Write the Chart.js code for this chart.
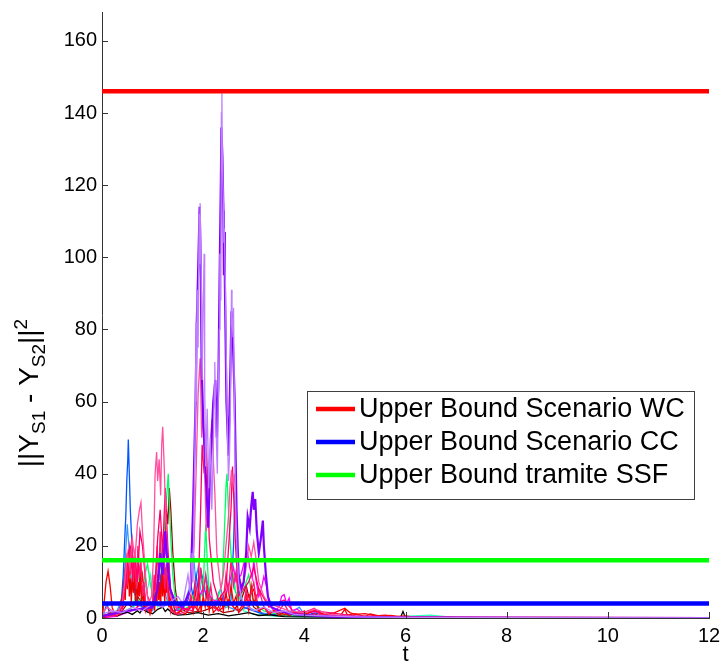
<!DOCTYPE html>
<html>
<head>
<meta charset="utf-8">
<script src="https://cdn.jsdelivr.net/npm/chart.js@4.4.1/dist/chart.umd.min.js"></script>
<style>
  html, body { margin: 0; padding: 0; background: #fff; }
  canvas { display: block; }
</style>
</head>
<body>
<canvas id="chart" width="722" height="666"></canvas>
<script>
// axis ticks
const xTicks = [0, 2, 4, 6, 8, 10, 12];
const yTicks = [0, 20, 40, 60, 80, 100, 120, 140, 160];

// horizontal bounds
const boundLabels = ["Upper Bound Scenario WC", "Upper Bound Scenario CC", "Upper Bound tramite SSF"];
const boundValues = [146, 4, 16];
const boundColors = ["#ff0000", "#0000ff", "#00ff00"];

// simulated trajectories, [t, ||Y_S1 - Y_S2||^2]
const lavender = [[0,1],[0.2,2],[0.4,1.5],[0.6,3],[0.8,2],[1.0,4],[1.2,3],[1.4,5],[1.5,6],[1.6,4],[1.65,8],[1.7,12],[1.74,7],[1.78,18],[1.8,10],[1.82,30],[1.84,52],[1.86,82],[1.87,60],[1.88,91],[1.9,75],[1.92,112],[1.93,98],[1.94,115],[1.96,97],[1.98,66],[2.0,88],[2.02,101],[2.03,64],[2.05,42],[2.08,58],[2.11,36],[2.14,50],[2.17,30],[2.2,46],[2.22,64],[2.23,71],[2.25,55],[2.28,40],[2.3,62],[2.32,80],[2.33,101],[2.35,88],[2.36,140],[2.37,145.5],[2.38,126],[2.4,115],[2.41,104],[2.42,108],[2.44,92],[2.46,70],[2.48,52],[2.5,38],[2.52,45],[2.54,60],[2.56,91],[2.57,84],[2.59,78],[2.6,86],[2.62,55],[2.64,32],[2.67,18],[2.7,10],[2.75,6],[2.8,4],[2.9,3],[3.0,2],[3.2,3],[3.4,1.5],[3.6,2],[3.8,1],[4.0,0.8],[4.5,0.5],[5,0.3],[6,0.2],[8,0.1],[12,0]];
const violet = [[0,0.5],[0.5,2],[1.0,3],[1.1,8],[1.15,18],[1.2,12],[1.25,24],[1.3,14],[1.35,8],[1.45,4],[1.6,3],[1.75,8],[1.8,30],[1.85,60],[1.87,80],[1.9,96],[1.93,114],[1.95,100],[1.97,70],[2.0,55],[2.05,40],[2.1,25],[2.15,45],[2.2,60],[2.24,66],[2.27,50],[2.3,64],[2.33,100],[2.35,121],[2.36,136],[2.38,128],[2.4,113],[2.41,95],[2.42,107],[2.43,92],[2.46,60],[2.5,45],[2.54,70],[2.56,85],[2.58,80],[2.62,62],[2.66,30],[2.7,12],[2.75,8],[2.8,10],[2.85,18],[2.88,28],[2.92,25],[2.95,31],[2.98,35],[3.0,30],[3.03,33],[3.06,24],[3.1,18],[3.14,22],[3.18,27],[3.2,20],[3.24,12],[3.28,6],[3.35,3],[3.5,2],[3.8,1],[4.5,0.4],[6,0.1],[12,0]];
const pink = [[0,1],[0.1,3],[0.2,2],[0.3,1],[0.4,4],[0.45,10],[0.5,18],[0.55,14],[0.6,22],[0.65,16],[0.7,26],[0.74,30],[0.77,32],[0.8,24],[0.84,16],[0.88,8],[0.92,4],[0.98,6],[1.02,18],[1.05,40],[1.08,46],[1.1,38],[1.13,44],[1.16,34],[1.18,48],[1.2,53],[1.23,42],[1.26,28],[1.3,14],[1.35,6],[1.45,3],[1.6,4],[1.7,6],[1.78,10],[1.82,20],[1.86,40],[1.9,62],[1.94,72],[1.97,50],[2.0,57],[2.03,40],[2.06,24],[2.1,32],[2.14,46],[2.17,55],[2.2,44],[2.23,35],[2.27,18],[2.3,14],[2.35,8],[2.4,12],[2.45,20],[2.5,28],[2.53,36],[2.56,41],[2.59,37],[2.62,40],[2.65,26],[2.7,12],[2.78,8],[2.85,14],[2.9,20],[2.95,17],[3.0,21],[3.05,16],[3.1,10],[3.2,6],[3.3,4],[3.5,3],[3.7,2],[4.0,1.5],[4.2,2.5],[4.5,1],[5,0.5],[6,0.2],[8,0.1],[12,0]];
const crimson = [[0,0.5],[0.3,1],[0.4,3],[0.45,8],[0.5,15],[0.55,20],[0.6,12],[0.65,18],[0.7,10],[0.75,24],[0.8,20],[0.85,12],[0.9,6],[1.0,3],[1.05,10],[1.1,22],[1.15,30],[1.2,18],[1.25,36],[1.3,20],[1.35,8],[1.5,3],[1.8,2],[1.9,6],[1.95,30],[1.98,48],[2.02,40],[2.05,50],[2.08,42],[2.12,22],[2.2,10],[2.3,5],[2.45,8],[2.55,30],[2.58,42],[2.6,35],[2.64,20],[2.7,6],[2.9,10],[3.0,14],[3.1,8],[3.3,3],[3.6,5],[3.8,1.5],[4.2,2],[5,0.6],[6,0.3],[12,0.1]];
const rose = [[0,0.2],[0.3,0.8],[0.4,2],[0.44,7],[0.47,15],[0.5,9],[0.53,19],[0.56,12],[0.59,22],[0.62,10],[0.65,17],[0.68,8],[0.71,20],[0.74,11],[0.77,16],[0.8,6],[0.83,10],[0.87,3],[0.92,2],[1.0,4],[1.03,12],[1.06,7],[1.09,20],[1.12,10],[1.15,24],[1.18,13],[1.21,19],[1.24,8],[1.27,15],[1.31,5],[1.36,2],[1.5,1],[1.7,2],[1.75,6],[1.8,3],[1.85,10],[1.9,5],[1.95,14],[2.0,7],[2.05,12],[2.1,4],[2.15,9],[2.2,3],[2.3,2],[2.4,5],[2.45,12],[2.5,7],[2.55,16],[2.6,9],[2.65,13],[2.7,4],[2.8,3],[2.85,8],[2.9,4],[3.0,10],[3.05,5],[3.1,8],[3.2,3],[3.3,1.5],[3.5,2],[3.6,4],[3.7,1.5],[3.9,1],[4.2,2.7],[4.3,1],[4.6,0.6],[5,0.4],[6,0.1],[12,0]];
const red = [[0,0],[0.04,4],[0.08,10],[0.12,13],[0.16,9],[0.2,3],[0.25,1],[0.3,2],[0.35,1],[0.4,5],[0.45,12],[0.5,18],[0.53,10],[0.56,20],[0.6,14],[0.64,17],[0.68,9],[0.72,15],[0.76,8],[0.8,12],[0.85,5],[0.9,3],[0.95,2],[1.0,4],[1.05,6],[1.1,9],[1.15,5],[1.2,12],[1.25,7],[1.3,10],[1.35,4],[1.4,2],[1.5,1],[1.6,3],[1.7,2],[1.8,4],[1.9,2],[2.0,5],[2.1,3],[2.2,4],[2.3,2],[2.4,3],[2.5,5],[2.6,3],[2.7,2],[2.8,4],[2.9,6],[3.0,8],[3.05,4],[3.1,2],[3.2,3],[3.3,1.5],[3.4,2],[3.6,1],[3.8,1.5],[4.0,1],[4.2,2],[4.4,1],[4.6,1.5],[4.8,2.7],[4.9,1.5],[5.0,1],[5.2,1.2],[5.4,0.6],[5.6,0.8],[5.8,0.4],[6.0,0.6],[6.2,0.2],[6.5,0.1],[7,0.2],[7.5,0.1],[8,0],[12,0]];
const redLow = [[0,0.3],[0.05,1],[0.1,0.5],[0.15,2],[0.2,0.8],[0.25,1.5],[0.3,0.6],[0.35,2],[0.4,6],[0.42,3],[0.44,9],[0.46,5],[0.48,14],[0.5,8],[0.52,16],[0.54,6],[0.56,11],[0.58,4],[0.6,13],[0.62,7],[0.64,15],[0.66,5],[0.68,12],[0.7,3],[0.72,10],[0.74,6],[0.76,14],[0.78,4],[0.8,9],[0.82,3],[0.84,7],[0.86,2],[0.9,4],[0.95,1],[1.0,3],[1.02,6],[1.04,2],[1.06,9],[1.08,4],[1.1,12],[1.12,5],[1.14,10],[1.16,3],[1.18,13],[1.2,6],[1.22,11],[1.24,4],[1.26,14],[1.28,7],[1.3,12],[1.32,3],[1.34,8],[1.36,2],[1.4,5],[1.45,1],[1.55,2],[1.65,1],[1.72,3],[1.76,6],[1.8,2],[1.84,8],[1.88,3],[1.92,7],[1.96,2],[2.0,6],[2.04,3],[2.08,9],[2.12,2],[2.16,5],[2.2,1.5],[2.3,3],[2.35,6],[2.4,2],[2.45,7],[2.5,3],[2.55,9],[2.6,4],[2.65,6],[2.7,1.5],[2.8,3],[2.85,7],[2.9,2],[2.95,9],[3.0,4],[3.05,6],[3.1,2],[3.2,3],[3.3,1],[3.4,2],[3.5,0.8],[3.6,1.6],[3.7,0.6],[3.8,1.4],[3.9,0.8],[4.0,2],[4.1,0.6],[4.2,1.2],[4.3,0.5],[4.5,1],[4.7,0.4],[4.8,2.4],[4.85,0.8],[5.0,1.2],[5.2,0.4],[5.3,1.1],[5.5,0.5],[5.7,0.7],[6.0,0.2],[6.3,0.3],[7,0.1],[8,0],[12,0]];
const black = [[0,0],[0.1,0.5],[0.2,1],[0.3,0.6],[0.4,1.2],[0.5,1.6],[0.6,1],[0.7,2],[0.75,1.4],[0.8,2.5],[0.9,1.6],[1.0,1.2],[1.1,2.4],[1.2,3],[1.25,1.8],[1.3,2.5],[1.4,1.2],[1.5,0.8],[1.7,1],[1.9,1.5],[2.1,0.8],[2.3,1.2],[2.5,0.6],[2.7,1],[2.9,1.5],[3.1,0.7],[3.3,0.9],[3.6,0.4],[4,0.3],[5,0.2],[5.9,0.1],[5.95,1.8],[6.0,0.1],[7,0.1],[10.8,0],[12,0]];
const magenta = [[0,0],[0.3,0.5],[0.6,2],[0.8,4],[1.0,3],[1.1,6],[1.2,10],[1.25,20],[1.3,14],[1.35,6],[1.5,2],[1.8,3],[2.0,8],[2.2,5],[2.4,4],[2.5,9],[2.6,14],[2.65,10],[2.75,12],[2.82,16],[2.88,18],[2.92,14],[2.97,11],[3.0,16],[3.05,10],[3.1,6],[3.15,8],[3.2,11.5],[3.25,9],[3.3,4],[3.4,2],[3.5,3],[3.55,6],[3.6,6.5],[3.65,4],[3.7,5.5],[3.75,2],[3.85,2.5],[4.0,1],[4.2,1.8],[4.5,0.6],[5,0.4],[6,0.2],[7,0.1],[8.4,0],[12,0]];
const springGreen = [[0,0],[0.2,1],[0.5,2],[0.7,4],[0.8,6],[0.85,12],[0.9,15],[0.95,10],[1.0,6],[1.1,8],[1.15,14],[1.2,20],[1.25,28],[1.28,34],[1.31,40],[1.33,32],[1.36,22],[1.4,12],[1.45,5],[1.55,2],[1.7,3],[1.8,6],[1.9,4],[2.0,8],[2.05,26],[2.08,16],[2.12,6],[2.2,4],[2.3,6],[2.38,10],[2.42,24],[2.45,36],[2.47,40],[2.5,30],[2.53,22],[2.57,14],[2.62,8],[2.7,5],[2.8,8],[2.9,12],[2.95,7],[3.0,4],[3.2,2],[3.5,1],[4.0,0.5],[5,0.3],[6,0.1],[12,0]];
const aqua = [[0,0],[0.3,1],[0.6,3],[0.7,8],[0.75,14],[0.8,10],[0.9,8],[0.96,12],[1.0,6],[1.1,3],[1.3,5],[1.5,2],[1.7,4],[1.9,8],[2.0,11],[2.1,5],[2.5,3],[2.6,12],[2.65,7],[2.8,2],[3.0,1],[3.4,0.5],[4.0,0.3],[5.5,0.2],[6.5,0.8],[7,0.1],[12,0]];
const blue = [[0,0],[0.05,2],[0.1,4],[0.15,1],[0.3,1],[0.38,4],[0.42,12],[0.45,22],[0.47,28],[0.49,38],[0.51,44],[0.52,49.5],[0.54,40],[0.56,30],[0.58,24],[0.6,18],[0.63,10],[0.66,6],[0.7,4],[0.8,3],[0.9,2],[1.0,4],[1.08,8],[1.12,14],[1.16,10],[1.2,18],[1.24,12],[1.28,8],[1.32,16],[1.36,6],[1.45,2],[1.6,3],[1.7,5],[1.76,9],[1.8,6],[1.86,12],[1.9,8],[1.96,13],[2.0,10],[2.06,6],[2.1,9],[2.15,4],[2.2,3],[2.3,5],[2.35,4],[2.4,6],[2.45,3],[2.55,5],[2.6,20],[2.63,35],[2.66,22],[2.7,8],[2.8,3],[3.0,2],[3.2,1],[3.6,1],[4.0,0.6],[4.2,1.4],[4.5,0.5],[5,0.3],[6,0.1],[12,0]];
const skyBlue = [[0,0],[0.1,1],[0.3,2],[0.4,6],[0.45,14],[0.5,26],[0.53,20],[0.56,12],[0.6,8],[0.7,5],[0.8,3],[1.0,2],[1.1,5],[1.15,8],[1.2,12],[1.25,7],[1.3,4],[1.4,2],[1.55,3],[1.65,5],[1.72,8],[1.78,12],[1.82,16],[1.85,10],[1.9,14],[1.95,8],[2.0,6],[2.05,12],[2.1,9],[2.15,5],[2.25,3],[2.3,7],[2.35,8],[2.4,5],[2.5,3],[2.7,2],[2.9,3],[3.1,1.5],[3.4,1],[3.8,2],[3.9,3],[4.0,1],[4.5,0.4],[6,0.1],[12,0]];
const darkRed = [[0,0.5],[0.2,1],[0.4,2],[0.5,4],[0.6,3],[0.7,6],[0.8,4],[0.9,2],[1.0,3],[1.05,6],[1.1,10],[1.15,8],[1.2,14],[1.24,20],[1.27,30],[1.3,26],[1.33,36],[1.36,30],[1.4,18],[1.45,8],[1.5,3],[1.7,1.5],[2.0,2],[2.2,3],[2.4,1.5],[2.6,2],[2.75,5],[2.85,9],[2.9,6],[3.0,3],[3.2,1],[3.5,0.8],[4,0.5],[5,0.3],[6,0.1],[12,0]];

// first entry is drawn on top
const trajectories = [
  { data: lavender, color: "#bf7fff", width: 1.3 },
  { data: violet, color: "#8000ff", width: 2.2 },
  { data: pink, color: "#ff4f9f", width: 1.3 },
  { data: crimson, color: "#ff0066", width: 1.3 },
  { data: rose, color: "#ff1a75", width: 1.3 },
  { data: red, color: "#ff0000", width: 1.3 },
  { data: redLow, color: "#f00000", width: 1.3 },
  { data: black, color: "#000000", width: 1.3 },
  { data: magenta, color: "#ff00ff", width: 1.3 },
  { data: springGreen, color: "#00ff66", width: 1.3 },
  { data: aqua, color: "#33ffbb", width: 1.2 },
  { data: blue, color: "#0055ff", width: 1.3 },
  { data: skyBlue, color: "#3399ff", width: 1.2 },
  { data: darkRed, color: "#a00000", width: 1.3 }
];

const toXY = pairs => pairs.map(([t, v]) => ({ x: t, y: v }));

const datasets = [];
boundValues.forEach((v, i) => {
  datasets.push({
    label: boundLabels[i],
    data: [{ x: 0, y: v }, { x: 12, y: v }],
    borderColor: boundColors[i],
    borderWidth: 4.5,
    isBound: true
  });
});
trajectories.forEach(tr => {
  datasets.push({
    data: toXY(tr.data),
    borderColor: tr.color,
    borderWidth: tr.width
  });
});

const FONT = "'Liberation Sans', Arial, sans-serif";

const decorations = {
  id: "decorations",
  afterDraw(chart) {
    const { ctx, chartArea: a, scales: { x, y } } = chart;
    ctx.save();

    // inward tick marks
    ctx.strokeStyle = "#333";
    ctx.lineWidth = 1;
    ctx.beginPath();
    xTicks.forEach(v => {
      const px = Math.round(x.getPixelForValue(v)) + 0.5;
      ctx.moveTo(px, a.bottom);
      ctx.lineTo(px, a.bottom - 6);
    });
    yTicks.forEach(v => {
      const py = Math.round(y.getPixelForValue(v)) + 0.5;
      ctx.moveTo(a.left, py);
      ctx.lineTo(a.left + 6, py);
    });
    ctx.stroke();

    // legend
    const bx = 307, by = 391, bw = 387, bh = 108;
    ctx.fillStyle = "#fff";
    ctx.fillRect(bx, by, bw, bh);
    ctx.strokeStyle = "#404040";
    ctx.strokeRect(bx + 0.5, by + 0.5, bw, bh);
    ctx.font = "27px " + FONT;
    ctx.textBaseline = "middle";
    ctx.textAlign = "left";
    chart.data.datasets.filter(d => d.isBound).forEach((d, i) => {
      const ly = by + 18 + i * 33;
      ctx.strokeStyle = d.borderColor;
      ctx.lineWidth = 4.5;
      ctx.beginPath();
      ctx.moveTo(316, ly);
      ctx.lineTo(355, ly);
      ctx.stroke();
      ctx.fillStyle = "#000";
      ctx.fillText(d.label, 359, ly + 1);
    });

    // x title
    ctx.fillStyle = "#000";
    ctx.font = "22px " + FONT;
    ctx.textAlign = "center";
    ctx.textBaseline = "middle";
    ctx.fillText("t", (a.left + a.right) / 2, 655);

    // y title with sub/superscripts
    const parts = [
      { s: "||Y", size: 28, dy: 0 },
      { s: "S1", size: 19, dy: 7 },
      { s: " - Y", size: 28, dy: 0 },
      { s: "S2", size: 19, dy: 7 },
      { s: "||", size: 28, dy: 0 },
      { s: "2", size: 19, dy: -11 }
    ];
    let total = 0;
    parts.forEach(p => {
      ctx.font = p.size + "px " + FONT;
      p.w = ctx.measureText(p.s).width;
      total += p.w;
    });
    ctx.translate(38, 393);
    ctx.rotate(-Math.PI / 2);
    ctx.textAlign = "left";
    ctx.textBaseline = "alphabetic";
    let cx = -total / 2;
    parts.forEach(p => {
      ctx.font = p.size + "px " + FONT;
      ctx.fillText(p.s, cx, p.dy);
      cx += p.w;
    });

    ctx.restore();
  }
};

new Chart(document.getElementById("chart"), {
  type: "line",
  data: { datasets },
  options: {
    responsive: false,
    animation: false,
    events: [],
    layout: { padding: { top: 12, right: 13, left: 0, bottom: 0 } },
    elements: {
      point: { radius: 0 },
      line: { tension: 0, borderCapStyle: "butt" }
    },
    plugins: {
      legend: { display: false },
      tooltip: { enabled: false }
    },
    scales: {
      x: {
        type: "linear",
        min: 0,
        max: 12,
        afterBuildTicks: s => { s.ticks = xTicks.map(v => ({ value: v })); },
        afterFit: s => { s.height = 48; s.paddingLeft = 0; s.paddingRight = 0; },
        grid: { display: false, drawTicks: false },
        border: { display: true, color: "#333", width: 1 },
        ticks: { color: "#000", font: { size: 20, family: FONT }, padding: 6, maxRotation: 0 }
      },
      y: {
        type: "linear",
        min: 0,
        max: 168,
        afterBuildTicks: s => { s.ticks = yTicks.map(v => ({ value: v })); },
        afterFit: s => { s.width = 102; s.paddingTop = 0; s.paddingBottom = 0; },
        grid: { display: false, drawTicks: false },
        border: { display: true, color: "#333", width: 1 },
        ticks: { color: "#000", font: { size: 20, family: FONT }, padding: 5 }
      }
    }
  },
  plugins: [decorations]
});
</script>
</body>
</html>
